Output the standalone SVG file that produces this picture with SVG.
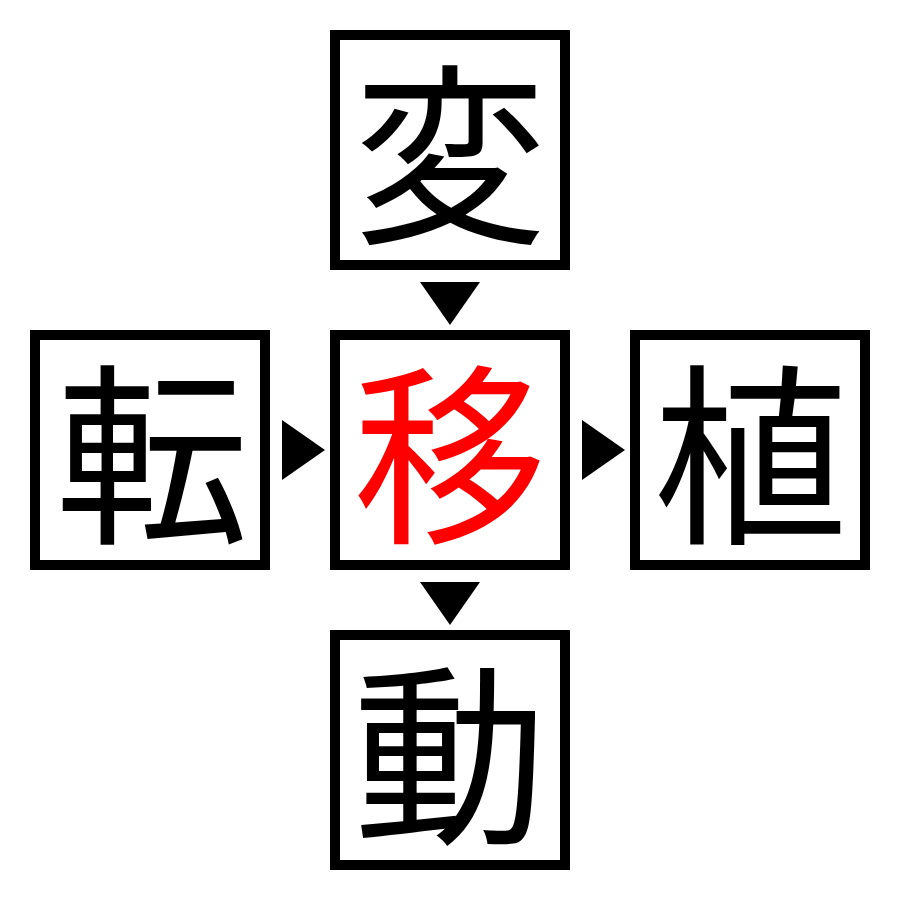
<svg xmlns="http://www.w3.org/2000/svg" width="900" height="900" viewBox="0 0 900 900">
<style>
.box{fill:#fff;stroke:#000;stroke-width:10}
.k{font-family:"Noto Sans CJK JP","Noto Sans CJK SC",sans-serif;font-size:194px;text-anchor:middle;dominant-baseline:central;fill:#000}
.red{fill:#ff0000}
.arr{fill:#000}
</style>
<rect width="900" height="900" fill="#fff"/>
<g id="node-top"><rect class="box" x="335" y="35" width="230" height="230"/><text class="k" x="450" y="144">変</text></g>
<g id="node-left"><rect class="box" x="35" y="335" width="230" height="230"/><text class="k" x="152" y="444">転</text></g>
<g id="node-center"><rect class="box" x="335" y="335" width="230" height="230"/><text class="k red" x="450" y="444">移</text></g>
<g id="node-right"><rect class="box" x="635" y="335" width="230" height="230"/><text class="k" x="750" y="444">植</text></g>
<g id="node-bottom"><rect class="box" x="335" y="635" width="230" height="230"/><text class="k" x="450" y="744">動</text></g>
<g id="connectors">
<polygon class="arr" points="420,282 480,282 450,325"/>
<polygon class="arr" points="282,420 325,450 282,480"/>
<polygon class="arr" points="582,420 625,450 582,480"/>
<polygon class="arr" points="420,582 480,582 450,625"/>
</g>
</svg>
